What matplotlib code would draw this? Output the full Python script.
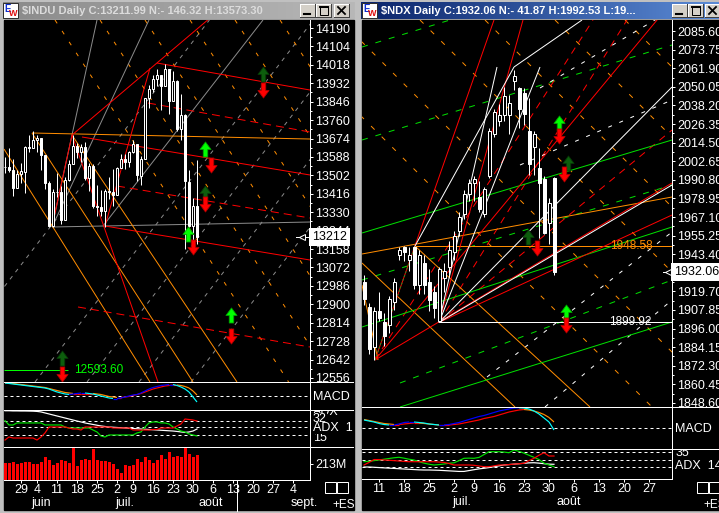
import numpy as np
import pandas as pd
import matplotlib
matplotlib.use("Agg")
import matplotlib.pyplot as plt
from matplotlib.collections import LineCollection
from matplotlib.colors import LinearSegmentedColormap
from matplotlib.path import Path
from matplotlib.patches import Rectangle
import matplotlib.transforms as mtrans

plt.rcParams['font.family'] = ['Liberation Sans', 'DejaVu Sans']

# ------------------------------------------------------------------ data
HOLIDAYS = ['2007-05-28', '2007-07-04', '2007-09-03']
MONTHS_FR = {6: 'juin', 7: 'juil.', 8: 'août', 9: 'sept.'}

indu_title = "$INDU Daily C:13211.99 N:- 146.32 H:13573.30"
ndx_title = "$NDX Daily C:1932.06 N:- 41.87 H:1992.53 L:19..."

# $INDU daily candles, 2007-05-22 .. 2007-07-31
indu_open = [13542, 13540, 13525, 13441, 13507, 13519, 13633, 13628, 13668, 13676, 13595, 13465, 13267, 13425, 13424,
             13295, 13482, 13554, 13639, 13612, 13635, 13489, 13545, 13360, 13352, 13336, 13427, 13422, 13409, 13535,
             13577, 13565, 13611, 13650, 13501, 13578, 13862, 13907, 13951, 13971, 13918, 14000, 13851, 13943, 13717,
             13785, 13473, 13266, 13358]
indu_high = [13588, 13630, 13580, 13527, 13560, 13637, 13692, 13710, 13690, 13678, 13598, 13478, 13438, 13511, 13453,
             13495, 13575, 13692, 13654, 13647, 13656, 13562, 13553, 13458, 13432, 13438, 13495, 13530, 13540, 13600,
             13600, 13616, 13668, 13650, 13594, 13864, 13925, 13971, 14000, 13972, 14022, 14000, 13990, 13946, 13880,
             13788, 13526, 13398, 13573]
indu_low = [13511, 13518, 13406, 13441, 13466, 13419, 13612, 13628, 13609, 13529, 13438, 13261, 13263, 13402, 13276,
            13295, 13476, 13553, 13583, 13564, 13482, 13427, 13351, 13312, 13312, 13261, 13392, 13360, 13409, 13535,
            13530, 13542, 13606, 13474, 13458, 13578, 13818, 13890, 13919, 13805, 13918, 13788, 13851, 13710, 13666,
            13158, 13263, 13170, 13181]
indu_close = [13539.95, 13525.65, 13441.13, 13507.28, 13521.34, 13633.08, 13627.64, 13668.11, 13676.32, 13595.46,
              13465.67, 13266.73, 13424.96, 13424.39, 13295.01, 13482.35, 13553.73, 13639.48, 13612.98, 13635.42,
              13489.42, 13545.84, 13360.26, 13352.05, 13337.66, 13427.73, 13422.28, 13408.62, 13535.43, 13577.30,
              13565.84, 13611.68, 13649.97, 13501.70, 13577.87, 13861.73, 13907.25, 13950.98, 13971.55, 13918.22,
              14000.41, 13851.08, 13943.42, 13716.95, 13785.07, 13473.57, 13265.47, 13358.31, 13211.99]
indu_volume_m = [220, 226, 245, 213, 220, 233, 245, 213, 216, 240, 300, 270, 200, 220, 266, 250, 226, 440, 190, 266,
                 285, 266, 410, 266, 250, 250, 235, 215, 150, 90, 200, 190, 200, 285, 235, 310, 266, 230, 270, 330,
                 285, 375, 300, 315, 300, 440, 350, 300, 330]
indu_macd = [130, 125, 120, 115, 110, 105, 100, 95, 90, 85, 80, 70, 55, 40, 30, 20, 15, 20, 25, 30, 30, 25, 20, 10, 0,
             -10, -20, -25, -25, -20, -10, 0, 10, 15, 30, 50, 70, 85, 95, 105, 110, 115, 115, 105, 90, 70, 40, -10, -60]
indu_signal = [130, 128, 125, 120, 115, 110, 105, 100, 95, 90, 85, 75, 65, 55, 45, 35, 30, 25, 25, 25, 25, 25, 25, 20,
               15, 5, -5, -10, -15, -15, -10, -5, 5, 15, 25, 40, 55, 70, 80, 90, 100, 105, 110, 110, 105, 95, 80, 50, 10]
indu_adx = [43.8, 43.8, 43.6, 43.6, 43.5, 43.5, 43.4, 43.3, 43.0, 42.4, 41.2, 40.0, 38.8, 37.6, 36.4, 35.2, 34.0, 32.8,
            31.6, 30.5, 29.3, 28.4, 27.5, 26.6, 25.7, 25.1, 24.5, 24.2, 23.9, 23.6, 23.3, 23.0, 22.7, 22.4, 22.1, 21.8,
            21.5, 21.2, 20.9, 20.6, 20.3, 20.0, 19.7, 19.2, 18.6, 18.0, 18.6, 19.7, 22.1]
indu_mdi = [32.0, 26.9, 26.9, 29.3, 29.3, 29.3, 29.3, 29.3, 29.3, 29.3, 26.9, 26.9, 26.9, 26.9, 26.9, 24.5, 23.3, 23.3,
            23.3, 23.3, 23.3, 23.3, 20.9, 18.6, 13.8, 12.6, 15.0, 15.0, 15.0, 15.0, 15.0, 15.0, 15.0, 17.4, 18.6, 24.5,
            29.3, 30.5, 30.5, 29.3, 29.3, 28.1, 24.5, 22.1, 19.7, 18.6, 16.2, 15.0, 13.8]
indu_pdi = [9.0, 12.6, 11.4, 11.4, 11.4, 11.4, 11.4, 11.4, 9.0, 12.6, 17.4, 24.5, 24.5, 24.5, 24.5, 24.5, 23.3, 22.1,
            22.1, 20.9, 24.5, 24.5, 24.5, 24.5, 24.5, 24.5, 24.5, 23.3, 23.3, 23.3, 23.3, 23.3, 20.9, 20.9, 20.9, 20.9,
            20.9, 21.5, 21.5, 23.3, 23.3, 23.3, 23.3, 25.7, 28.1, 34.0, 33.4, 32.8, 31.6]
indu_levels = [14190, 14104, 14018, 13932, 13846, 13760, 13674, 13588, 13502, 13416, 13330, 13244, 13158, 13072,
               12986, 12900, 12814, 12728, 12642, 12556]
indu_adx_levels = [32, 24.1, 15]
indu_support = 12593.60

# $NDX daily candles, 2007-06-06 .. 2007-07-31
ndx_open = [1926, 1910, 1884, 1907, 1900, 1898, 1913, 1943, 1948, 1940, 1948, 1924, 1938, 1926, 1919, 1901, 1928, 1935,
            1945, 1958, 1969, 1982, 1989, 1980, 1969, 1993, 2020, 2028, 2032, 2032, 2054, 2049, 2046, 2022, 2012, 1998,
            1991, 1963, 1992]
ndx_high = [1930, 1912, 1910, 1919, 1906, 1917, 1928, 1948, 1948.5, 1948, 1948.58, 1946, 1943, 1934, 1923, 1935, 1938,
            1952, 1958, 1970, 1984, 1991, 1993, 1990, 1986, 2024, 2036, 2039, 2050, 2045, 2061, 2050, 2049, 2043, 2022,
            2011, 1993, 1979, 1992.53]
ndx_low = [1911, 1880, 1876, 1901, 1885, 1893, 1908, 1940, 1939, 1933, 1921, 1918, 1918, 1907, 1903, 1899.92, 1919,
           1929, 1940, 1955, 1966, 1977, 1977, 1970, 1967, 1992, 2018, 2025, 2028, 2020, 2048, 2024, 2026, 1994, 1994,
           1954, 1956, 1950, 1930]
ndx_close = [1915, 1883, 1907, 1903, 1891, 1915, 1926, 1946, 1945, 1943, 1924, 1943, 1924, 1914, 1909, 1934, 1933, 1946,
             1955, 1967, 1982, 1989, 1991, 1972, 1985, 2022, 2034, 2032, 2044, 2040, 2057, 2036, 2033, 2001, 2020, 1989,
             1957, 1976, 1932.06]
ndx_macd = [8.3, 7.3, 6.3, 4.8, 3.8, 3.3, 3.3, 4.3, 5.8, 6.3, 6.3, 5.8, 5.3, 4.3, 3.8, 3.3, 3.3, 3.8, 4.8, 5.8, 7.3,
            8.8, 10.3, 11.8, 12.8, 14.3, 15.8, 17.3, 18.3, 19.3, 20.3, 20.5, 20.3, 19.3, 17.3, 14.3, 10.3, 6.3, -1.7]
ndx_signal = [8.8, 7.8, 6.8, 5.8, 4.8, 4.3, 3.8, 3.8, 4.3, 4.8, 5.3, 5.3, 4.8, 4.3, 3.8, 3.3, 3.3, 3.3, 3.8, 4.3, 5.3,
              6.3, 7.3, 8.3, 9.8, 10.8, 11.8, 13.3, 14.8, 16.3, 17.3, 18.3, 18.8, 18.3, 17.3, 15.8, 13.8, 10.8, 6.3]
ndx_adx = [13.6, 13.6, 13.2, 12.8, 12.4, 12.0, 11.6, 11.2, 10.8, 10.4, 10.0, 9.6, 9.4, 9.4, 9.2, 9.0, 8.6, 8.2, 7.8, 7.4,
           7.4, 8.6, 9.8, 11.0, 11.8, 12.8, 14.0, 15.2, 16.4, 17.0, 17.6, 18.2, 18.8, 19.4, 19.6, 19.0, 18.2, 17.6, 17.4]
ndx_mdi = [21.0, 21.5, 22.5, 23.4, 24.5, 25.5, 26.5, 27.2, 26.0, 24.5, 23.4, 21.0, 19.0, 17.5, 16.4, 17.0, 17.8, 18.8,
           19.5, 22.5, 25.8, 26.0, 25.8, 27.0, 31.0, 35.0, 35.0, 35.0, 34.5, 33.6, 37.4, 35.5, 33.0, 30.0, 27.2, 24.0,
           19.0, 16.4, 14.0]
ndx_pdi = [16.4, 20.0, 24.0, 24.0, 23.4, 23.0, 22.5, 22.0, 21.5, 21.0, 21.0, 21.0, 21.0, 21.0, 21.0, 20.5, 20.0, 18.5,
           16.4, 16.4, 16.4, 16.4, 16.0, 15.0, 14.0, 14.0, 15.2, 16.4, 16.4, 17.0, 17.6, 18.2, 18.8, 22.5, 25.8, 30.0,
           33.6, 29.0, 29.0]
ndx_levels = [2085.60, 2073.75, 2061.90, 2050.05, 2038.20, 2026.35, 2014.50, 2002.65, 1990.80, 1978.95, 1967.10,
              1955.25, 1943.40, 1931.55, 1919.70, 1907.85, 1896.00, 1884.15, 1872.30, 1860.45, 1848.60]
ndx_adx_levels = [35, 23.4, 14]
ndx_resistance = 1948.58
ndx_support = 1899.92

# trend lines: (day0, price0, day1, price1)
indu_red_solid = [(38, 14026.6, 76.25, 13900.5), (19.25, 13681.1, 76.25, 13503.7), (25, 13265.5, 76.25, 13106.8),
                  (16.75, 13690.4, 51.25, 14236.7), (12, 13284.2, 16.75, 13690.4), (25, 13265.5, 36.25, 14003.2),
                  (16.75, 13690.4, 38.25, 12537.2)]
indu_red_dashed = [(35.75, 13839.8, 76.25, 13704.4), (28, 13452.3, 76.25, 13302.9), (18.25, 12887.4, 76.25, 12700.6)]
indu_orange_solid = [(6.75, 13699.8, 76.25, 13671.7), (-0.25, 13625.0, 36.25, 12537.2),
                     (6.75, 13699.8, 47, 12537.2), (16.75, 13690.4, 58, 12537.2)]
indu_orange_dashed = [(12.5, 14227.4, 70.9, 12537.2), (23.75, 14227.4, 82.1, 12537.2), (35, 14227.4, 93.4, 12537.2),
                      (46.25, 14227.4, 104.6, 12537.2), (57.5, 14227.4, 115.9, 12537.2),
                      (68.75, 14227.4, 127.1, 12537.2)]
indu_gray_solid = [(11.75, 13260.9, 23, 14227.4), (11.75, 13260.9, 36, 14227.4), (24.5, 13265.5, 64.5, 14227.4),
                   (11.75, 13260.9, 76.25, 13284.2)]
indu_gray_dashed = [(-18.5, 12537.2, 51.1, 14227.4), (7.5, 12537.2, 77.1, 14227.4), (20.5, 12537.2, 90.1, 14227.4),
                    (33.5, 12537.2, 103.1, 14227.4), (46.5, 12537.2, 116.1, 14227.4)]
indu_green_solid = [(-0.25, indu_support, 15.75, indu_support)]

ndx_white_solid = [(15, 1899.92, 61.6, 1987.49), (15, 1899.92, 26.6, 2062.66), (15, 1899.92, 35.2, 2062.66),
                   (15, 1899.92, 61.6, 2049.92), (10.2, 1948.58, 30, 2062.66), (30, 2062.66, 43.6, 2092.61),
                   (15, 1899.92, 61.6, 1899.92)]
ndx_white_dashed = [(24.6, 1865.16, 61.6, 1957.55), (31.2, 2000.23, 61.6, 2041.64), (35.2, 2049.29, 59.2, 2094.52),
                    (36.2, 1846.05, 61.6, 1914.2)]
ndx_green_solid = [(-0.4, 1956.91, 61.6, 2016.16), (-0.4, 1897.02, 61.6, 1960.73), (7.2, 1846.05, 61.6, 1900.2)]
ndx_green_dashed = [(-0.4, 2075.41, 17.2, 2092.61), (-0.4, 2016.16, 61.6, 2076.68), (-0.4, 1926.96, 61.6, 1987.49),
                    (7.2, 1861.34, 61.6, 1926.96)]
ndx_red_solid = [(2.2, 1876.0, 26, 2092.61), (2.2, 1876.0, 61.6, 1988.76), (2.2, 1876.0, 61.6, 2104.08),
                 (15, 1899.92, 61.6, 1968.37), (15, 1899.92, 31.8, 2092.61)]
ndx_red_dashed = [(2.2, 1876.0, 45.8, 2092.61), (15, 1899.92, 61.6, 2022.53), (15, 1899.92, 52.6, 2092.61)]
ndx_green_dotted = [(2.2, 1876.0, 10.2, 1948.58)]
ndx_orange_solid = [(10.2, 1948.58, 61.6, 1948.58), (-0.4, 1943.53, 61.6, 1979.84), (-0.4, 1937.79, 30.2, 1846.05),
                    (-0.4, 1923.78, 2.8, 1876.0), (10.2, 1948.58, 45.2, 1846.05)]
ndx_orange_dashed = [(-19.8, 2092.61, 57.6, 1846.05), (-4.8, 2092.61, 72.6, 1846.05), (11.2, 2092.61, 88.6, 1846.05),
                     (24.2, 2092.61, 101.6, 1846.05), (38.2, 2092.61, 115.6, 1846.05),
                     (52.2, 2092.61, 129.6, 1846.05)]

# signal arrows: (day, price)
indu_up_bright = [(50.1, 13623), (45.75, 13228), (56.6, 12852)]
indu_up_dark = [(64.5, 13973), (49.9, 13420), (14.25, 12649)]
indu_down = [(64.4, 13900), (51.6, 13550), (49.9, 13368), (47.1, 13167), (56.4, 12754), (14.25, 12574)]
ndx_up_bright = [(39, 2027.0), (40.4, 1906.6)]
ndx_up_dark = [(40.8, 2001.5), (32.8, 1954.4)]
ndx_down = [(39, 2018.5), (40, 1994.5), (34.6, 1947.3), (40.4, 1898.6)]

# ------------------------------------------------------------------ figure
W, H = 719, 513
PX = 0.72
fig = plt.figure(figsize=(W / 100, H / 100), dpi=100)
fig.patch.set_facecolor('#c0c0c0')


def px_axes(x0, y0, x1, y1, z=1):
    return fig.add_axes([x0 / W, 1 - y1 / H, (x1 - x0) / W, (y1 - y0) / H], zorder=z)


def make_days(start):
    d = pd.bdate_range(start, '2007-09-21')
    return d[~d.isin(pd.to_datetime(HOLIDAYS))]


bg = px_axes(0, 0, W, H, z=0)
bg.axis('off')


def grad(x0, y0, x1, y1, c0, c1):
    cm = LinearSegmentedColormap.from_list('g', [c0, c1])
    bg.imshow(np.linspace(0, 1, 256)[None, :], cmap=cm, extent=(x0, x1, y1, y0), aspect='auto',
              interpolation='bilinear', zorder=1)


bg.add_patch(Rectangle((4, 20), 350, 490, color='black', zorder=1))
bg.add_patch(Rectangle((362, 20), 357, 490, color='black', zorder=1))
grad(3, 2, 355, 19, '#8a8a8a', '#b8b8b8')
grad(361, 2, 719, 19, '#0a246a', '#5b8bd6')
bg.set_xlim(0, W)
bg.set_ylim(H, 0)


def icon(x):
    bg.add_patch(Rectangle((x, 2.5), 15, 15, facecolor='white', edgecolor='#303030', lw=PX, zorder=3))
    bg.text(x + 4.5, 8.5, 'E', color='#1030d0', fontsize=7, weight='bold', ha='center', va='center', zorder=4)
    bg.text(x + 10, 13, 'W', color='#e01010', fontsize=6.5, weight='bold', ha='center', va='center', zorder=4)


def button(x, kind):
    y, w, h = 4, 15, 13
    bg.add_patch(Rectangle((x, y), w, h, facecolor='#d4d0c8', edgecolor='none', zorder=3))
    bg.plot([x, x + w], [y, y], color='white', lw=PX, zorder=4)
    bg.plot([x, x], [y, y + h], color='white', lw=PX, zorder=4)
    bg.plot([x, x + w], [y + h, y + h], color='#404040', lw=PX, zorder=4)
    bg.plot([x + w, x + w], [y, y + h], color='#404040', lw=PX, zorder=4)
    if kind == 'min':
        bg.plot([x + 4, x + 10], [y + 10, y + 10], color='black', lw=1.5, zorder=5)
    elif kind == 'max':
        bg.add_patch(Rectangle((x + 3.5, y + 2.5), 8, 8, fill=False, edgecolor='black', lw=PX, zorder=5))
        bg.plot([x + 3.5, x + 11.5], [y + 3, y + 3], color='black', lw=1.4, zorder=5)
    else:
        bg.plot([x + 4, x + 11], [y + 3, y + 10], color='black', lw=1.3, zorder=5)
        bg.plot([x + 4, x + 11], [y + 10, y + 3], color='black', lw=1.3, zorder=5)


icon(3)
icon(362)
for bx, k in [(300, 'min'), (316, 'max'), (334, 'close'), (672, 'min'), (688, 'max'), (705, 'close')]:
    button(bx, k)
bg.text(22, 11, indu_title, color='#dcdcdc', fontsize=8, weight='bold', va='center', zorder=4)
bg.text(381, 11, ndx_title, color='white', fontsize=8, weight='bold', va='center', zorder=4)


def style(ax, xlim, ylim):
    ax.set_facecolor('black')
    ax.set_xlim(*xlim)
    ax.set_ylim(*ylim)
    for k in ['top', 'bottom', 'left']:
        ax.spines[k].set_visible(False)
    ax.spines['right'].set_color('white')
    ax.spines['right'].set_linewidth(PX)
    ax.yaxis.tick_right()
    ax.tick_params(axis='y', which='both', direction='out', color='white', labelcolor='white', width=PX,
                   length=3 * PX, pad=1.5, labelsize=9)
    ax.tick_params(axis='y', which='minor', length=2 * PX)
    ax.tick_params(axis='x', which='both', bottom=False, labelbottom=False)
    ax.set_yticks([])


def draw_lines(ax, segs, color, ls='-', lw=PX, z=2):
    lc = LineCollection([[(a, b), (c, d)] for a, b, c, d in segs], colors=color, linestyles=ls,
                        linewidths=lw, zorder=z)
    ax.add_collection(lc)


def candles(ax, o, h, l, c, width):
    o, h, l, c = map(np.asarray, (o, h, l, c))
    x = np.arange(len(o))
    ax.vlines(x, l, h, color='white', lw=PX, zorder=5)
    up = c >= o
    bot = np.minimum(o, c)
    hgt = np.maximum(np.abs(c - o), 0.5)
    ax.bar(x[up], hgt[up], bottom=bot[up], width=width, color='black', edgecolor='white', lw=PX, zorder=6)
    ax.bar(x[~up], hgt[~up], bottom=bot[~up], width=width, color='white', edgecolor='white', lw=PX, zorder=6)


up_path = Path([(-0.15, -0.5), (0.15, -0.5), (0.15, 0.0), (0.37, 0.0), (0, 0.5), (-0.37, 0.0), (-0.15, 0.0),
                (-0.15, -0.5)], closed=True)
down_path = Path([(-0.15, 0.5), (0.15, 0.5), (0.15, 0.0), (0.37, 0.0), (0, -0.5), (-0.37, 0.0), (-0.15, 0.0),
                  (-0.15, 0.5)], closed=True)


def arrows(ax, pts, path, face, edge):
    if not pts:
        return
    xs, ys = zip(*pts)
    ax.plot(xs, ys, ls='none', marker=path, markersize=10.8, markerfacecolor=face, markeredgecolor=edge,
            markeredgewidth=0.6, zorder=8)


def colored(ax, y, c_up, c_down):
    y = np.asarray(y, float)
    x = np.arange(len(y))
    segs = [[(x[k], y[k]), (x[k + 1], y[k + 1])] for k in range(len(y) - 1)]
    cols = [c_up if y[k + 1] >= y[k] else c_down for k in range(len(y) - 1)]
    ax.add_collection(LineCollection(segs, colors=cols, linewidths=PX * 1.2, zorder=3))


def price_marker(ax, value, text, span):
    bl = mtrans.blended_transform_factory(ax.transAxes, ax.transData)
    ax.plot([span[0], span[1]], [value, value], color='white', lw=PX, transform=bl, clip_on=False, zorder=9)
    ax.plot([(span[0] + span[1]) / 2], [value], marker='<', ms=5, mfc='black', mec='white', mew=PX,
            transform=bl, clip_on=False, zorder=10)
    ax.text(1.008, value, text, transform=bl, ha='left', va='center', fontsize=9, color='black', zorder=10,
            clip_on=False, bbox=dict(facecolor='white', edgecolor='none', pad=2.2))


def date_axis(ax, days, xmax, bottom_px):
    ticks = [k for k in range(1, len(days)) if days[k].weekday() < days[k - 1].weekday() and k <= xmax]
    ax.set_xticks(ticks)
    ax.set_xticklabels([str(days[k].day) for k in ticks])
    ax.tick_params(axis='x', which='major', bottom=True, labelbottom=True, direction='out', color='white',
                   labelcolor='white', length=3 * PX, width=PX, pad=1, labelsize=9)
    starts = [k for k in range(1, len(days)) if days[k].month != days[k - 1].month and k <= xmax]
    for k in starts:
        ax.annotate(MONTHS_FR[days[k].month], xy=(k, 0), xycoords=('data', 'axes fraction'),
                    xytext=(-1.5, -16.6), textcoords='offset points', ha='left', va='center', color='white',
                    fontsize=9, annotation_clip=False)


# ------------------------------------------------------------------ left ($INDU)
left_days = make_days('2007-05-22')
LX = (-0.25, 76.25)
Lm = px_axes(4, 20, 310, 382)
style(Lm, LX, (12537.2, 14227.4))
Lm.set_yticks(indu_levels)
Lm.set_yticklabels([str(v) for v in indu_levels])
Lm.set_yticks([(a + b) / 2 for a, b in zip(indu_levels[:-1], indu_levels[1:])], minor=True)
draw_lines(Lm, indu_gray_dashed, '#8a8a8a', ls=(0, (4, 5)))
draw_lines(Lm, indu_orange_dashed, '#ff8c00', ls=(0, (4, 9)))
draw_lines(Lm, indu_gray_solid, '#8a8a8a')
draw_lines(Lm, indu_orange_solid, '#ff8c00')
draw_lines(Lm, indu_red_dashed, '#ff0000', ls=(0, (8, 5)))
draw_lines(Lm, indu_red_solid, '#ff0000')
draw_lines(Lm, indu_green_solid, '#00ff00')
Lm.text(17.2, indu_support, '%.2f' % indu_support, color='#00ff00', fontsize=8.5, va='center', ha='left', zorder=7)
candles(Lm, indu_open, indu_high, indu_low, indu_close, 0.55)
arrows(Lm, indu_up_dark, up_path, '#0d5e0d', '#063806')
arrows(Lm, indu_up_bright, up_path, '#00ff00', '#00a000')
arrows(Lm, indu_down, down_path, '#ff0000', '#b00000')
price_marker(Lm, indu_close[-1], '%d' % round(indu_close[-1]), (0.955, 0.995))

Lmacd = px_axes(4, 382, 310, 410)
style(Lmacd, LX, (-140, 140))
Lmacd.axhline(0, color='white', lw=PX, ls=(0, (3, 3)), zorder=1)
colored(Lmacd, indu_signal, '#ff0000', '#ff8c00')
colored(Lmacd, indu_macd, '#0000ff', '#00ffff')

Ladx = px_axes(4, 410, 310, 447)
style(Ladx, LX, (0.7, 44.7))
for v in indu_adx_levels:
    Ladx.axhline(v, color='white', lw=PX, ls=(0, (3, 3)), zorder=1)
Ladx.plot(np.arange(len(indu_adx)), indu_adx, color='white', lw=PX * 1.2, zorder=3)
Ladx.plot(np.arange(len(indu_mdi)), indu_mdi, color='#00e000', lw=PX * 1.2, zorder=3)
Ladx.plot(np.arange(len(indu_pdi)), indu_pdi, color='#ff0000', lw=PX * 1.2, zorder=3)

Lvol = px_axes(4, 447, 310, 480)
style(Lvol, LX, (0, 439))
Lvol.bar(np.arange(len(indu_volume_m)), indu_volume_m, width=0.75, color='#ff0000', zorder=2)
Lvol.set_yticks([213])
Lvol.set_yticklabels(['213M'])
date_axis(Lvol, left_days, 73, 480)
bl = mtrans.blended_transform_factory(Lvol.transData, Lvol.transAxes)
Lvol.plot([58, 58], [0, -0.93], color='white', lw=PX, transform=bl, clip_on=False)

# ------------------------------------------------------------------ right ($NDX)
right_days = make_days('2007-06-06')
RX = (-0.4, 61.6)
Rm = px_axes(362, 20, 672, 407)
style(Rm, RX, (1846.05, 2092.61))
Rm.set_yticks(ndx_levels)
Rm.set_yticklabels(['%.2f' % v for v in ndx_levels])
Rm.set_yticks([(a + b) / 2 for a, b in zip(ndx_levels[:-1], ndx_levels[1:])], minor=True)
draw_lines(Rm, ndx_orange_dashed, '#ff8c00', ls=(0, (5, 10)))
draw_lines(Rm, ndx_green_dashed, '#00e000', ls=(0, (6, 8)))
draw_lines(Rm, ndx_red_dashed, '#ff0000', ls=(0, (7, 6)))
draw_lines(Rm, ndx_white_dashed, 'white', ls=(0, (4, 8)))
draw_lines(Rm, ndx_orange_solid, '#ff8c00')
draw_lines(Rm, ndx_green_solid, '#00e000')
draw_lines(Rm, ndx_red_solid, '#ff0000')
draw_lines(Rm, ndx_green_dotted, '#1f8f1f', ls=(0, (2, 2)))
draw_lines(Rm, ndx_white_solid, 'white')
Rm.text(49.2, ndx_resistance, '%.2f' % ndx_resistance, color='#ff8c00', fontsize=8.5, va='center', ha='left',
        zorder=7)
Rm.text(49.0, ndx_support, '%.2f' % ndx_support, color='white', fontsize=8.5, va='center', ha='left', zorder=7)
candles(Rm, ndx_open, ndx_high, ndx_low, ndx_close, 0.6)
arrows(Rm, ndx_up_dark, up_path, '#0d5e0d', '#063806')
arrows(Rm, ndx_up_bright, up_path, '#00ff00', '#00a000')
arrows(Rm, ndx_down, down_path, '#ff0000', '#b00000')
price_marker(Rm, ndx_close[-1], '%.2f' % ndx_close[-1], (0.972, 0.999))

Rmacd = px_axes(362, 407, 672, 449)
style(Rmacd, RX, (-20.7, 21.3))
Rmacd.axhline(0, color='white', lw=PX, ls=(0, (3, 3)), zorder=1)
colored(Rmacd, ndx_signal, '#ff0000', '#ff8c00')
colored(Rmacd, ndx_macd, '#0000ff', '#00ffff')

Radx = px_axes(362, 449, 672, 479)
style(Radx, RX, (-3.2, 38.8))
for v in ndx_adx_levels:
    Radx.axhline(v, color='white', lw=PX, ls=(0, (3, 3)), zorder=1)
Radx.plot(np.arange(len(ndx_adx)), ndx_adx, color='white', lw=PX * 1.2, zorder=3)
Radx.plot(np.arange(len(ndx_mdi)), ndx_mdi, color='#00e000', lw=PX * 1.2, zorder=3)
Radx.plot(np.arange(len(ndx_pdi)), ndx_pdi, color='#ff0000', lw=PX * 1.2, zorder=3)
date_axis(Radx, right_days, RX[1], 479)

# ------------------------------------------------------------------ indicator labels
lab_l = px_axes(311, 410.5, 354, 446.5, z=15)
lab_l.set_facecolor('black')
lab_l.set_xlim(311, 354)
lab_l.set_ylim(446.5, 410.5)
lab_l.set_xticks([])
lab_l.set_yticks([])
for s in lab_l.spines.values():
    s.set_visible(False)
lab_l.text(313, 412, 'ADX', color='white', fontsize=9, va='center', clip_on=True)
lab_l.text(313, 419, '%d' % indu_adx_levels[0], color='white', fontsize=9, va='center', clip_on=True,
           bbox=dict(facecolor='black', edgecolor='none', pad=0))
lab_l.text(313, 438, '%d' % indu_adx_levels[2], color='white', fontsize=9, va='center', clip_on=True)
lab_l.text(313, 428, 'ADX  1', color='white', fontsize=9, va='center', clip_on=True,
           bbox=dict(facecolor='black', edgecolor='none', pad=0.3))

lab_r = px_axes(673, 449.5, 719, 478.5, z=15)
lab_r.set_facecolor('black')
lab_r.set_xlim(673, 719)
lab_r.set_ylim(478.5, 449.5)
lab_r.set_xticks([])
lab_r.set_yticks([])
for s in lab_r.spines.values():
    s.set_visible(False)
lab_r.text(676, 452.5, '%d' % ndx_adx_levels[0], color='white', fontsize=9, va='center', clip_on=True)
lab_r.text(675, 466, 'ADX  14', color='white', fontsize=9, va='center', clip_on=True,
           bbox=dict(facecolor='black', edgecolor='none', pad=0.3))

ov = px_axes(0, 0, W, H, z=20)
ov.set_xlim(0, W)
ov.set_ylim(H, 0)
ov.axis('off')
ov.patch.set_alpha(0)
for y in (382, 410, 447):
    ov.plot([4, 353], [y, y], color='white', lw=PX)
ov.plot([4, 310], [480, 480], color='white', lw=PX)
for y in (407, 449):
    ov.plot([362, 719], [y, y], color='white', lw=PX)
ov.plot([362, 672], [479, 479], color='white', lw=PX)
ov.text(313, 397, 'MACD', color='white', fontsize=9, va='center')
ov.text(675, 429, 'MACD', color='white', fontsize=9, va='center')
for sx in (325, 337, 697, 709):
    ov.add_patch(Rectangle((sx, 482), 11, 11, fill=False, edgecolor='white', lw=PX))
ov.text(332, 505, '+ES', color='white', fontsize=8.5, va='center')
ov.text(703, 505, '+ES', color='white', fontsize=8.5, va='center')

fig.savefig('out.png', dpi=100, facecolor=fig.get_facecolor())
